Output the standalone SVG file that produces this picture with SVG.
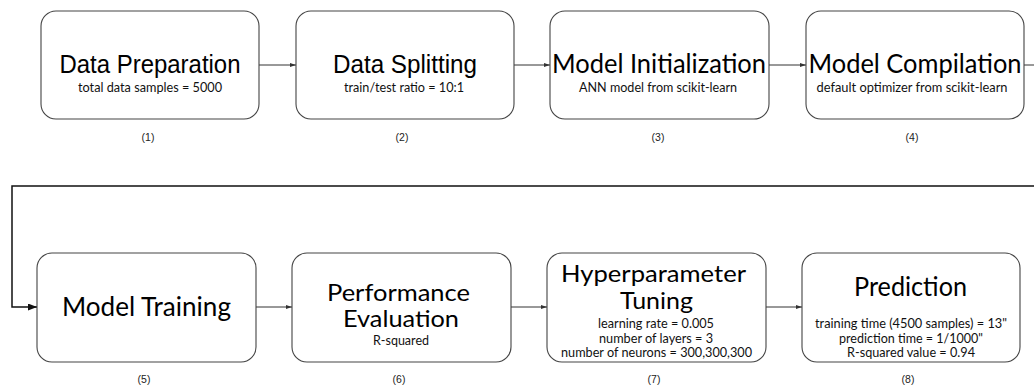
<svg xmlns="http://www.w3.org/2000/svg" width="1034" height="385" viewBox="0 0 1034 385">
<style>
.box{fill:#fff;stroke:#444;stroke-width:1.1}
.ta{font-family:"Liberation Sans",Arial,sans-serif;font-size:25px;fill:#000;text-anchor:middle}
.tc{font-family:Lato,"Open Sans",sans-serif;font-size:26.5px;fill:#000;text-anchor:middle}
.tc2{font-family:Lato,"Open Sans",sans-serif;font-size:24px;fill:#000;text-anchor:middle}
.sub{font-family:Lato,"Open Sans",sans-serif;font-size:13.5px;fill:#111;text-anchor:middle}
.lbl{font-family:"Liberation Sans",Arial,sans-serif;font-size:10.5px;fill:#222;text-anchor:middle}
.c{fill:none;stroke:#333;stroke-width:1}
.loop{fill:none;stroke:#111;stroke-width:1.5}
</style>
<defs>
<marker id="a" markerWidth="6" markerHeight="4" refX="6" refY="2" orient="auto" markerUnits="userSpaceOnUse"><path d="M0,0 L6,2 L0,4 Z" fill="#333"/></marker>
<marker id="b" markerWidth="9" markerHeight="7" refX="9" refY="3.5" orient="auto" markerUnits="userSpaceOnUse"><path d="M0,0 L9,3.5 L0,7 Z" fill="#111"/></marker>
</defs>
<g id="connectors">
<path class="c" d="M259,65 H296" marker-end="url(#a)"/>
<path class="c" d="M514,65 H550" marker-end="url(#a)"/>
<path class="c" d="M769,65 H806" marker-end="url(#a)"/>
<path class="c" d="M1024,65 H1034"/>
<path class="loop" d="M1034,186 H12 V307 H37" marker-end="url(#b)"/>
<path class="c" d="M256,307 H292" marker-end="url(#a)"/>
<path class="c" d="M511,307 H547" marker-end="url(#a)"/>
<path class="c" d="M766,307 H802" marker-end="url(#a)"/>
</g>
<g id="n1">
<rect class="box" x="41" y="11" width="218" height="108" rx="15"/>
<text class="ta" x="150" y="73" textLength="181" lengthAdjust="spacingAndGlyphs">Data Preparation</text>
<text class="sub" x="150" y="92" textLength="144" lengthAdjust="spacingAndGlyphs">total data samples = 5000</text>
<text class="lbl" x="148" y="141">(1)</text>
</g>
<g id="n2">
<rect class="box" x="296" y="11" width="218" height="108" rx="15"/>
<text class="ta" x="405" y="73" textLength="144" lengthAdjust="spacingAndGlyphs">Data Splitting</text>
<text class="sub" x="404" y="92" textLength="120" lengthAdjust="spacingAndGlyphs">train/test ratio = 10:1</text>
<text class="lbl" x="402" y="141">(2)</text>
</g>
<g id="n3">
<rect class="box" x="550" y="11" width="219" height="108" rx="15"/>
<text class="tc" x="659" y="73" textLength="214" lengthAdjust="spacingAndGlyphs">Model Initialization</text>
<text class="sub" x="658" y="92" textLength="158" lengthAdjust="spacingAndGlyphs">ANN model from scikit-learn</text>
<text class="lbl" x="658" y="141">(3)</text>
</g>
<g id="n4">
<rect class="box" x="806" y="11" width="218" height="108" rx="15"/>
<text class="tc" x="915" y="73" textLength="213" lengthAdjust="spacingAndGlyphs">Model Compilation</text>
<text class="sub" x="912" y="92" textLength="191" lengthAdjust="spacingAndGlyphs">default optimizer from scikit-learn</text>
<text class="lbl" x="912" y="141">(4)</text>
</g>
<g id="n5">
<rect class="box" x="37" y="253" width="219" height="109" rx="15"/>
<text class="tc" x="146.5" y="316" textLength="169" lengthAdjust="spacingAndGlyphs">Model Training</text>
<text class="lbl" x="144" y="383">(5)</text>
</g>
<g id="n6">
<rect class="box" x="292" y="253" width="219" height="109" rx="15"/>
<text class="tc2" x="398.5" y="301" textLength="143" lengthAdjust="spacingAndGlyphs">Performance</text>
<text class="tc2" x="401" y="327" textLength="116" lengthAdjust="spacingAndGlyphs">Evaluation</text>
<text class="sub" x="401" y="345" textLength="56" lengthAdjust="spacingAndGlyphs">R-squared</text>
<text class="lbl" x="399" y="383">(6)</text>
</g>
<g id="n7">
<rect class="box" x="547" y="253" width="219" height="109" rx="15"/>
<text class="tc2" x="653.5" y="282" textLength="185" lengthAdjust="spacingAndGlyphs">Hyperparameter</text>
<text class="tc2" x="656.5" y="309" textLength="73" lengthAdjust="spacingAndGlyphs">Tuning</text>
<text class="sub" x="656" y="328" textLength="116" lengthAdjust="spacingAndGlyphs">learning rate = 0.005</text>
<text class="sub" x="656" y="343" textLength="114" lengthAdjust="spacingAndGlyphs">number of layers = 3</text>
<text class="sub" x="656.5" y="357" textLength="191" lengthAdjust="spacingAndGlyphs">number of neurons = 300,300,300</text>
<text class="lbl" x="654" y="383">(7)</text>
</g>
<g id="n8">
<rect class="box" x="802" y="253" width="218" height="109" rx="15"/>
<text class="tc" x="910.5" y="296" textLength="113" lengthAdjust="spacingAndGlyphs">Prediction</text>
<text class="sub" x="911" y="328" textLength="192" lengthAdjust="spacingAndGlyphs">training time (4500 samples) = 13"</text>
<text class="sub" x="911" y="343" textLength="144" lengthAdjust="spacingAndGlyphs">prediction time = 1/1000"</text>
<text class="sub" x="911" y="357" textLength="128" lengthAdjust="spacingAndGlyphs">R-squared value = 0.94</text>
<text class="lbl" x="908" y="383">(8)</text>
</g>
</svg>
